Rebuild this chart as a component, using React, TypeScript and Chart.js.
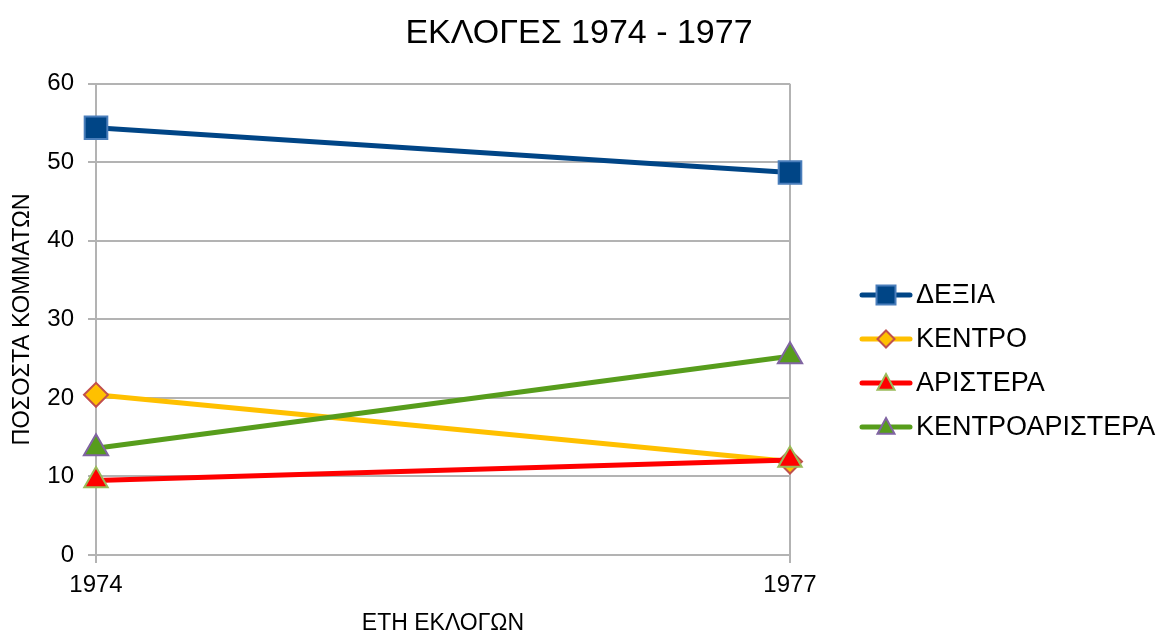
import React, { useEffect, useRef } from "react";
import { Chart, registerables } from "chart.js";

Chart.register(...registerables);

const years = ["1974", "1977"];
const dexia = [54.4, 48.7];
const kentro = [20.4, 11.9];
const aristera = [9.5, 12.1];
const kentroaristera = [13.6, 25.3];
const yTicks = [0, 10, 20, 30, 40, 50, 60];

const FONT = "'Liberation Sans', Arial, sans-serif";

function drawMarker(ctx: CanvasRenderingContext2D, style: string, x: number, y: number, r: number) {
  ctx.beginPath();
  if (style === "rect") {
    ctx.rect(x - r, y - r, 2 * r, 2 * r);
  } else if (style === "rectRot") {
    ctx.moveTo(x, y - r);
    ctx.lineTo(x + r, y);
    ctx.lineTo(x, y + r);
    ctx.lineTo(x - r, y);
    ctx.closePath();
  } else {
    ctx.moveTo(x, y - r * 1.05);
    ctx.lineTo(x + r, y + r * 0.8);
    ctx.lineTo(x - r, y + r * 0.8);
    ctx.closePath();
  }
  ctx.fill();
  ctx.stroke();
}

const legendPlugin = {
  id: "customLegend",
  afterDraw(chart: any) {
    const ctx = chart.ctx;
    const items = chart.data.datasets;
    const x0 = 862;
    const lineLen = 48;
    const startY = 295;
    const gap = 44;
    items.forEach((ds: any, i: number) => {
      const y = startY + i * gap;
      ctx.save();
      ctx.strokeStyle = ds.borderColor;
      ctx.lineWidth = 5;
      ctx.lineCap = "round";
      ctx.beginPath();
      ctx.moveTo(x0, y);
      ctx.lineTo(x0 + lineLen, y);
      ctx.stroke();
      ctx.fillStyle = ds.pointBackgroundColor;
      ctx.strokeStyle = ds.pointBorderColor;
      ctx.lineWidth = ds.pointBorderWidth;
      ctx.lineCap = "butt";
      drawMarker(ctx, ds.pointStyle, x0 + lineLen / 2, y, ds.legendRadius);
      ctx.fillStyle = "#000";
      ctx.font = `27px ${FONT}`;
      ctx.textBaseline = "middle";
      ctx.textAlign = "left";
      ctx.fillText(ds.label, x0 + lineLen + 6, y + 1);
      ctx.restore();
    });
  },
};

export default function App() {
  const ref = useRef<HTMLCanvasElement>(null);
  useEffect(() => {
    document.body.style.margin = "0";
    const chart = new Chart(ref.current!, {
      type: "line",
      data: {
        labels: years,
        datasets: [
          {
            label: "ΔΕΞΙΑ",
            data: dexia,
            order: 4,
            borderColor: "#004586",
            borderWidth: 5,
            pointStyle: "rect",
            pointRadius: 16,
            pointBackgroundColor: "#004586",
            pointBorderColor: "#4A7EBB",
            pointBorderWidth: 2,
            legendRadius: 9.5,
          } as any,
          {
            label: "ΚΕΝΤΡΟ",
            data: kentro,
            order: 3,
            borderColor: "#FFC000",
            borderWidth: 5,
            pointStyle: "rectRot",
            pointRadius: 12,
            pointBackgroundColor: "#FFC000",
            pointBorderColor: "#C0504D",
            pointBorderWidth: 2,
            legendRadius: 8.5,
          } as any,
          {
            label: "ΑΡΙΣΤΕΡΑ",
            data: aristera,
            order: 2,
            borderColor: "#FF0000",
            borderWidth: 5,
            pointStyle: "triangle",
            pointRadius: 13.5,
            pointBackgroundColor: "#FF0000",
            pointBorderColor: "#9BBB59",
            pointBorderWidth: 2,
            legendRadius: 8.5,
          } as any,
          {
            label: "ΚΕΝΤΡΟΑΡΙΣΤΕΡΑ",
            data: kentroaristera,
            order: 1,
            borderColor: "#579D1C",
            borderWidth: 5,
            pointStyle: "triangle",
            pointRadius: 14,
            pointBackgroundColor: "#579D1C",
            pointBorderColor: "#8064A2",
            pointBorderWidth: 2,
            legendRadius: 8.5,
          } as any,
        ],
      },
      options: {
        animation: false,
        responsive: false,
        maintainAspectRatio: false,
        layout: { padding: { left: 0, right: 0, top: 0, bottom: 0 } },
        plugins: {
          legend: { display: false },
          tooltip: { enabled: false },
          title: {
            display: true,
            text: "ΕΚΛΟΓΕΣ 1974 - 1977",
            color: "#000",
            font: { family: FONT, size: 34, weight: "normal" },
            padding: { top: 13, bottom: 30 },
          },
        },
        scales: {
          x: {
            type: "category",
            offset: false,
            grid: { color: "#B3B3B3", lineWidth: 2, drawTicks: true, tickLength: 8 },
            border: { color: "#B3B3B3", width: 2 },
            ticks: { color: "#000", font: { family: FONT, size: 24 }, padding: 8, maxRotation: 0 },
            title: {
              display: true,
              text: "ΕΤΗ ΕΚΛΟΓΩΝ",
              color: "#000",
              font: { family: FONT, size: 23 },
              padding: { top: 0, bottom: -2 },
            },
            afterFit: (s: any) => {
              s.height = 80;
            },
          },
          y: {
            min: 0,
            max: 60,
            afterBuildTicks: (s: any) => {
              s.ticks = yTicks.map((v) => ({ value: v }));
            },
            grid: { color: "#B3B3B3", lineWidth: 2, tickLength: 8 },
            border: { color: "#B3B3B3", width: 2 },
            ticks: { color: "#000", font: { family: FONT, size: 24 }, padding: 14 },
            title: {
              display: true,
              text: "ΠΟΣΟΣΤΑ ΚΟΜΜΑΤΩΝ",
              color: "#000",
              font: { family: FONT, size: 23.5 },
              padding: { top: 8, bottom: 4 },
            },
            afterFit: (s: any) => {
              s.width = 96;
            },
          },
          yRight: {
            type: "linear",
            position: "right",
            display: true,
            min: 0,
            max: 60,
            grid: { display: false, drawTicks: false },
            border: { display: false },
            ticks: { display: false },
            afterFit: (s: any) => {
              s.width = 368;
            },
          },
        },
      } as any,
      plugins: [legendPlugin],
    });
    return () => chart.destroy();
  }, []);
  return (
    <div style={{ position: "fixed", left: 0, top: 0, width: 1158, height: 635, background: "#fff" }}>
      <canvas ref={ref} width={1158} height={635} style={{ width: 1158, height: 635 }} />
    </div>
  );
}
